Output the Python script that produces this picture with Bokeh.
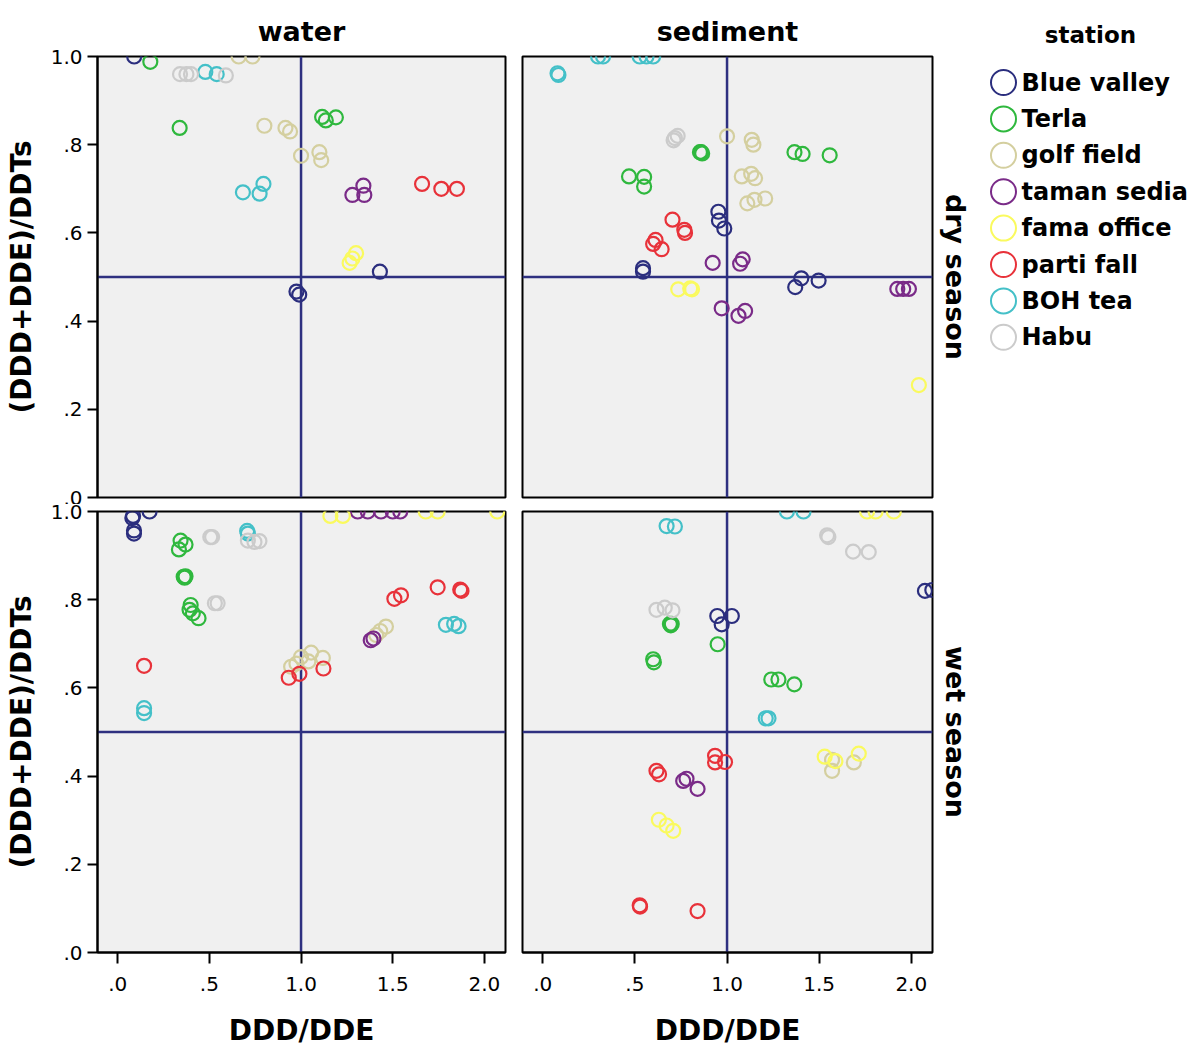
from bokeh.plotting import figure
from bokeh.models import Range1d, Span, FixedTicker, CustomJSTickFormatter, Title
from bokeh.layouts import row, column
from bokeh.embed import file_html
from bokeh.resources import INLINE
from bokeh.core.properties import value

# ---------------- data ----------------
STATIONS = ["Blue valley", "Terla", "golf field", "taman sedia",
            "fama office", "parti fall", "BOH tea", "Habu"]
COLORS = ["#2b2e7e", "#2fb83e", "#d4cf9f", "#7a2b88",
          "#fafa5e", "#e8323a", "#44c0c8", "#cbcbcb"]

X_TICKS = [0.0, 0.5, 1.0, 1.5, 2.0]
Y_TICKS = [0.0, 0.2, 0.4, 0.6, 0.8, 1.0]
COL_TITLES = ["water", "sediment"]
ROW_TITLES = ["dry season", "wet season"]
X_TITLE = "DDD/DDE"
Y_TITLE = "(DDD+DDE)/DDTs"
LEGEND_TITLE = "station"
REF_X = 1.0
REF_Y = 0.5

WATER_DRY = {
    "Blue valley": [(0.09, 1.0), (1.43, 0.512), (0.975, 0.467), (0.99, 0.46)],
    "Terla": [(0.178, 0.988), (0.338, 0.838), (1.115, 0.863), (1.135, 0.855), (1.19, 0.862)],
    "golf field": [(0.66, 1.0), (0.735, 1.0), (0.80, 0.843), (0.915, 0.838), (0.94, 0.83),
                   (1.0, 0.775), (1.10, 0.783), (1.11, 0.765)],
    "taman sedia": [(1.28, 0.686), (1.34, 0.707), (1.345, 0.686)],
    "fama office": [(1.265, 0.532), (1.28, 0.542), (1.30, 0.554)],
    "parti fall": [(1.66, 0.711), (1.765, 0.70), (1.85, 0.70)],
    "BOH tea": [(0.478, 0.965), (0.54, 0.96), (0.683, 0.692), (0.774, 0.689), (0.795, 0.711)],
    "Habu": [(0.34, 0.96), (0.375, 0.96), (0.40, 0.96), (0.59, 0.957)],
}

SEDIMENT_DRY = {
    "Blue valley": [(0.953, 0.648), (0.956, 0.628), (0.985, 0.61), (0.544, 0.52), (0.544, 0.512),
                    (1.403, 0.497), (1.37, 0.477), (1.497, 0.492)],
    "Terla": [(0.853, 0.783), (0.86, 0.783), (0.865, 0.78), (0.468, 0.728), (0.55, 0.727),
              (0.55, 0.705), (1.366, 0.783), (1.41, 0.779), (1.557, 0.776)],
    "golf field": [(1.0, 0.819), (1.134, 0.811), (1.143, 0.80), (1.08, 0.728), (1.131, 0.734),
                   (1.152, 0.724), (1.11, 0.667), (1.149, 0.675), (1.207, 0.678)],
    "taman sedia": [(0.922, 0.532), (1.085, 0.54), (1.071, 0.53), (0.971, 0.429), (1.098, 0.423),
                    (1.062, 0.412), (1.924, 0.473), (1.956, 0.473), (1.987, 0.473)],
    "fama office": [(0.735, 0.472), (0.80, 0.474), (0.81, 0.472), (2.041, 0.255)],
    "parti fall": [(0.704, 0.63), (0.768, 0.607), (0.772, 0.60), (0.612, 0.584), (0.599, 0.575),
                   (0.645, 0.563)],
    "BOH tea": [(0.08, 0.962), (0.085, 0.958), (0.30, 1.0), (0.327, 1.0), (0.526, 1.0),
                (0.563, 1.0), (0.599, 1.0)],
    "Habu": [(0.71, 0.81), (0.717, 0.815), (0.732, 0.82)],
}

WATER_WET = {
    "Blue valley": [(0.084, 0.99), (0.174, 1.0), (0.089, 0.957), (0.089, 0.95), (0.08, 0.985)],
    "Terla": [(0.343, 0.934), (0.37, 0.925), (0.334, 0.914), (0.36, 0.852), (0.365, 0.85),
              (0.37, 0.853), (0.398, 0.788), (0.392, 0.777), (0.41, 0.769), (0.441, 0.758)],
    "golf field": [(1.463, 0.739), (1.432, 0.729), (1.41, 0.72), (0.946, 0.648), (0.975, 0.655),
                   (1.0, 0.67), (1.055, 0.68), (1.04, 0.66), (1.119, 0.668)],
    "taman sedia": [(1.309, 1.0), (1.364, 1.0), (1.436, 1.0), (1.50, 1.0), (1.541, 1.0),
                    (1.38, 0.708), (1.395, 0.712)],
    "fama office": [(1.16, 0.99), (1.228, 0.99), (1.68, 1.0), (1.745, 1.0), (2.07, 1.0)],
    "parti fall": [(0.144, 0.65), (0.933, 0.623), (0.991, 0.632), (1.122, 0.644), (1.509, 0.802),
                   (1.545, 0.81), (1.745, 0.828), (1.868, 0.823), (1.875, 0.82)],
    "BOH tea": [(0.706, 0.956), (0.71, 0.95), (0.144, 0.554), (0.144, 0.543), (1.79, 0.743),
                (1.835, 0.745), (1.859, 0.74)],
    "Habu": [(0.505, 0.942), (0.515, 0.942), (0.71, 0.934), (0.746, 0.931), (0.773, 0.933),
             (0.53, 0.792), (0.545, 0.792)],
}

SEDIMENT_WET = {
    "Blue valley": [(2.074, 0.82), (2.114, 0.822), (0.947, 0.763), (1.026, 0.763), (0.971, 0.744)],
    "Terla": [(0.69, 0.745), (0.695, 0.742), (0.70, 0.745), (0.949, 0.699), (0.599, 0.665),
              (0.603, 0.658), (1.24, 0.619), (1.279, 0.619), (1.365, 0.608)],
    "golf field": [(1.57, 0.437), (1.57, 0.412), (1.688, 0.431)],
    "taman sedia": [(0.762, 0.389), (0.78, 0.394), (0.84, 0.371)],
    "fama office": [(0.63, 0.301), (0.672, 0.288), (0.708, 0.276), (1.53, 0.444), (1.588, 0.434),
                    (1.715, 0.451), (1.76, 1.0), (1.806, 1.0), (1.905, 1.0)],
    "parti fall": [(0.935, 0.446), (0.935, 0.431), (0.989, 0.432), (0.617, 0.412), (0.631, 0.404),
                   (0.526, 0.107), (0.528, 0.104), (0.84, 0.094)],
    "BOH tea": [(0.672, 0.967), (0.717, 0.966), (1.325, 1.0), (1.415, 1.0), (1.21, 0.531),
                (1.225, 0.531)],
    "Habu": [(1.543, 0.946), (1.55, 0.942), (1.684, 0.909), (1.769, 0.908), (0.617, 0.777),
             (0.662, 0.782), (0.704, 0.776)],
}

# ---------------- styling ----------------
FONT = "DejaVu Sans"
BG = "#f0f0f0"
REF_COLOR = "#2e3080"
FMT = CustomJSTickFormatter(code="""
    var s = tick.toFixed(1);
    if (s.indexOf("0.") === 0) { s = s.slice(1); }
    return s;
""")

FRAME_H = 441
TOP_B, MID_B, BOT_B = 56, 7, 94
COL1_L, COL1_R, COL2_L, COL2_R = 97, 9, 8, 48


def panel(data, col, rowi):
    left_col = col == 0
    bottom_row = rowi == 1
    p = figure(
        frame_width=408 if left_col else 410,
        frame_height=FRAME_H,
        x_range=Range1d(-0.11, 2.115),
        y_range=Range1d(0.0, 1.0),
        x_axis_location="below" if bottom_row else None,
        y_axis_location="left" if left_col else None,
        output_backend="svg",
        toolbar_location=None,
        min_border_left=COL1_L if left_col else COL2_L,
        min_border_right=COL1_R if left_col else COL2_R,
        min_border_top=MID_B if bottom_row else TOP_B,
        min_border_bottom=BOT_B if bottom_row else MID_B,
        background_fill_color=BG,
        border_fill_color="white",
    )
    p.outline_line_color = "black"
    p.outline_line_width = 2
    p.xgrid.visible = False
    p.ygrid.visible = False

    if rowi == 0:
        p.title.text = COL_TITLES[col]
        p.title.align = "center"
        p.title.text_font = FONT
        p.title.text_font_size = "27px"
        p.title.text_font_style = "bold"
        p.title.text_color = "black"
        p.title.standoff = 19

    if col == 1:
        p.add_layout(Title(text=ROW_TITLES[rowi], align="center", text_font=FONT,
                           text_font_size="27px", text_font_style="bold",
                           text_color="black", standoff=14), "right")

    for ax in p.axis:
        ax.axis_line_color = "black"
        ax.axis_line_width = 2
        ax.major_tick_line_color = "black"
        ax.major_tick_line_width = 2
        ax.major_tick_in = 0
        ax.minor_tick_line_color = None
        ax.major_label_text_font = FONT
        ax.major_label_text_font_size = "20px"
        ax.major_label_text_color = "black"
        ax.formatter = FMT
        ax.axis_label_text_font = FONT
        ax.axis_label_text_font_size = "28px"
        ax.axis_label_text_font_style = "bold"
        ax.axis_label_text_color = "black"

    if left_col:
        ya = p.yaxis[0]
        ya.ticker = FixedTicker(ticks=Y_TICKS)
        ya.major_tick_out = 10
        ya.major_label_standoff = 5
        ya.axis_label = Y_TITLE
        ya.axis_label_standoff = 10
    if bottom_row:
        xa = p.xaxis[0]
        xa.ticker = FixedTicker(ticks=X_TICKS)
        xa.major_tick_out = 11
        xa.major_label_standoff = 13
        xa.axis_label = X_TITLE
        xa.axis_label_standoff = 20

    p.add_layout(Span(location=REF_Y, dimension="width", line_color=REF_COLOR,
                      line_width=2.5, level="underlay"))
    p.add_layout(Span(location=REF_X, dimension="height", line_color=REF_COLOR,
                      line_width=2.5, level="underlay"))

    for name, color in zip(STATIONS, COLORS):
        pts = data.get(name, [])
        if not pts:
            continue
        xs = [a for a, b in pts]
        ys = [b for a, b in pts]
        p.scatter(xs, ys, marker="circle", size=14, fill_color=None,
                  line_color=color, line_width=2.2)
    return p


p_wd = panel(WATER_DRY, 0, 0)
p_sd = panel(SEDIMENT_DRY, 1, 0)
p_ww = panel(WATER_WET, 0, 1)
p_sw = panel(SEDIMENT_WET, 1, 1)

# ---------------- legend (page-pixel coordinates inside its own frame) ----------------
LEG_X0 = COL1_L + 408 + COL1_R + COL2_L + 410 + COL2_R   # 980
LEG_W = 1200 - LEG_X0
leg = figure(frame_width=LEG_W, frame_height=FRAME_H,
             x_range=Range1d(LEG_X0, 1200),
             y_range=Range1d(TOP_B + FRAME_H, TOP_B),
             x_axis_location=None, y_axis_location=None, output_backend="svg",
             toolbar_location=None, min_border_left=0, min_border_right=0,
             min_border_top=TOP_B, min_border_bottom=MID_B,
             outline_line_color=None,
             background_fill_color="white", border_fill_color="white")
leg.xgrid.visible = False
leg.ygrid.visible = False
leg.title.text = LEGEND_TITLE
leg.title.align = "center"
leg.title.text_font = FONT
leg.title.text_font_size = "23px"
leg.title.text_font_style = "bold"
leg.title.text_color = "black"
leg.title.standoff = 18

n = len(STATIONS)
ly = [82 + 36.4 * i for i in range(n)]
leg.scatter([1003] * n, ly, marker="circle", size=25, fill_color=None,
            line_color=COLORS, line_width=2)
leg.text([1021] * n, ly, text=STATIONS, text_font=value(FONT), text_font_style="bold",
         text_font_size="24px", text_baseline="middle", text_align="left",
         text_color="black")

layout = column(row(p_wd, p_sd, leg), row(p_ww, p_sw))

with open("out.html", "w") as f:
    f.write(file_html(layout, INLINE))
